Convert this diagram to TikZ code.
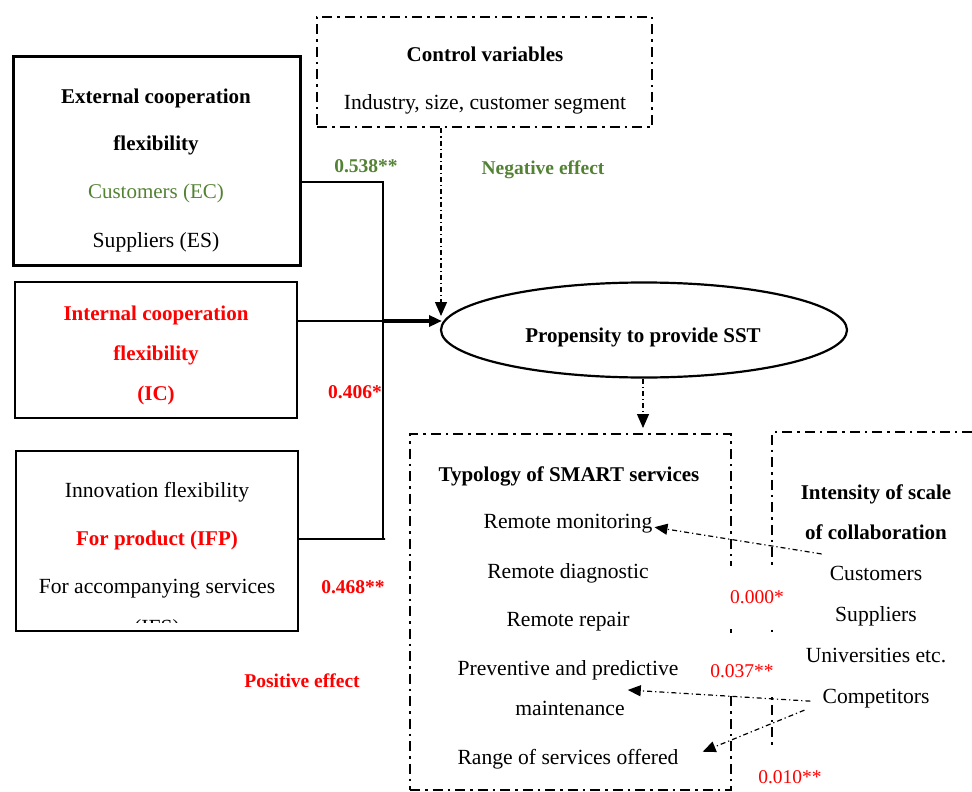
\documentclass[tikz,border=0pt]{standalone}
\usepackage{fontspec}
\setmainfont{Liberation Serif}
\usetikzlibrary{arrows.meta,calc,shapes.geometric}
\definecolor{effgreen}{RGB}{84,130,53}
\definecolor{effred}{RGB}{255,0,0}
\newcommand\fA{\fontsize{21.6}{25}\selectfont}
\newcommand\fC{\fontsize{21}{25}\selectfont}
\newcommand\fB{\fontsize{19.5}{23}\selectfont}
\tikzset{
  txt/.style={font=\fA, inner sep=0pt, anchor=base},
  btxt/.style={font=\fC\bfseries, inner sep=0pt, anchor=base},
  lbl/.style={font=\fB\bfseries, inner sep=0pt, anchor=base},
  rlbl/.style={font=\fB, text=effred, inner sep=0pt, anchor=base},
  solidbox/.style={draw, line width=2.6pt, inner sep=0pt},
  ddpat/.style={line width=2.8pt, dash pattern=on 10pt off 5pt on 2.5pt off 5pt},
  ddbox/.style={draw, ddpat, inner sep=0pt},
  ddline/.style={line width=1.2pt, dash pattern=on 5pt off 3pt on 1.2pt off 3pt},
  conn/.style={line width=1.4pt},
  tipA/.style={-{Triangle[length=13pt,width=11pt]}},
  tipB/.style={-{Triangle[length=14pt,width=12pt]}},
}
\begin{document}
\begin{tikzpicture}[x=1pt,y=-1pt]
\useasboundingbox (0,0) rectangle (972,792);

% control variables
\node[ddbox, minimum width=335, minimum height=110] (ctrl) at (484.5,72) {};
\node[btxt] (ctrlA) at (485,62) {Control variables};
\node[txt] (ctrlB) at (485,110) {Industry, size, customer segment};

% external cooperation
\node[solidbox, line width=3pt, minimum width=287, minimum height=208] (ext) at (156.5,161) {};
\node[btxt] (extA) at (156,103) {External cooperation};
\node[btxt] (extB) at (156,150) {flexibility};
\node[txt, font=\fC, text=effgreen] (extC) at (156,198) {Customers (EC)};
\node[txt] (extD) at (156,247) {Suppliers (ES)};

% internal cooperation
\node[solidbox, minimum width=282, minimum height=136] (ic) at (156,350) {};
\node[btxt, text=effred] (icA) at (156,320) {Internal cooperation};
\node[btxt, text=effred] (icB) at (156,360) {flexibility};
\node[btxt, text=effred] (icC) at (156,400) {(IC)};

% innovation flexibility
\node[solidbox, minimum width=282, minimum height=180] (inn) at (157,541) {};
\node[txt] (innA) at (157,497) {Innovation flexibility};
\node[btxt, text=effred] (innB) at (157,545) {For product (IFP)};
\node[txt] (innC) at (157,593) {For accompanying services};
\begin{scope}
  \clip (18,452) rectangle (296,622.5);
  \node[txt] (innD) at (157,634) {(IFS)};
\end{scope}

% ellipse
\node[draw, ellipse, line width=2.2pt, minimum width=406, minimum height=95, inner sep=0pt] (sst) at (644,330) {};
\node[btxt] (sstT) at (643,342) {Propensity to provide SST};

% connectors into the ellipse
\coordinate (jA) at (383,182);
\coordinate (j) at (383,321);
\coordinate (jC) at (385,539);
\draw[conn] (ext.east |- jA) -- (jA) -- (j);
\draw[conn] (inn.east |- jC) -- (jC) -- (j |- jC) -- (j);
\draw[line width=2.4pt] (ic.east |- j) -- (j);
\draw[line width=3.4pt, tipA] (j) -- (442,321);
\coordinate (ctip) at (441,316);
\draw[ddline, tipB] (ctip |- ctrl.south) -- (ctip);

% labels
\node[lbl, text=effgreen] (l538) at (366,172) {0.538**};
\node[lbl, text=effgreen] (neg) at (543,174) {Negative effect};
\node[lbl, text=effred] (l406) at (355,398) {0.406*};
\node[lbl, text=effred] (l468) at (353,593) {0.468**};
\node[lbl, text=effred] (pos) at (302,687) {Positive effect};

% typology box
\node[ddbox, minimum width=321, minimum height=356] (typ) at (570.5,612) {};
\coordinate (ttip) at (643,428);
\draw[ddline, tipB] (sst.south -| ttip) -- (ttip);
\node[btxt] (typT) at (569,481) {Typology of SMART services};
\node[txt] (rmon) at (568,528) {Remote monitoring};
\node[txt] (rdia) at (568,578) {Remote diagnostic};
\node[txt] (rrep) at (568,626) {Remote repair};
\node[txt] (prev) at (568,675) {Preventive and predictive};
\node[txt] (maint) at (570,715) {maintenance};
\node[txt] (range) at (568,764) {Range of services offered};

% intensity box (open to the right)
\draw[ddpat] (972,432) -- (772,432) -- (772,745);
\node[btxt] (intA) at (876,499) {Intensity of scale};
\node[btxt] (intB) at (876,539) {of collaboration};
\node[txt] (cust) at (876,580) {Customers};
\node[txt] (supp) at (876,621) {Suppliers};
\node[txt] (univ) at (876,662) {Universities etc.};
\node[txt] (comp) at (876,703) {Competitors};

% red significance labels (white background hides the box borders)
\node[fill=white, minimum width=58, minimum height=61, inner sep=0pt] (w000) at (752,596.5) {};
\node[rlbl] (l000) at (757,603) {0.000*};
\node[fill=white, minimum width=76, minimum height=62, inner sep=0pt] (w037) at (744,663.5) {};
\node[rlbl] (l037) at (742,677) {0.037**};
\node[rlbl] (l010) at (790,783) {0.010**};

% collaboration arrows
\draw[ddline, tipA] ($(cust.west)+(-8,-19)$) -- ($(rmon.east)+(2,4)$);
\draw[ddline, tipA] ($(comp.west)+(-12,3)$) -- ($(maint.east)+(3,-18)$);
\draw[ddline, tipA] ($(comp.west)+(-18,12)$) -- ($(range.east)+(24,-7)$);
\end{tikzpicture}
\end{document}
